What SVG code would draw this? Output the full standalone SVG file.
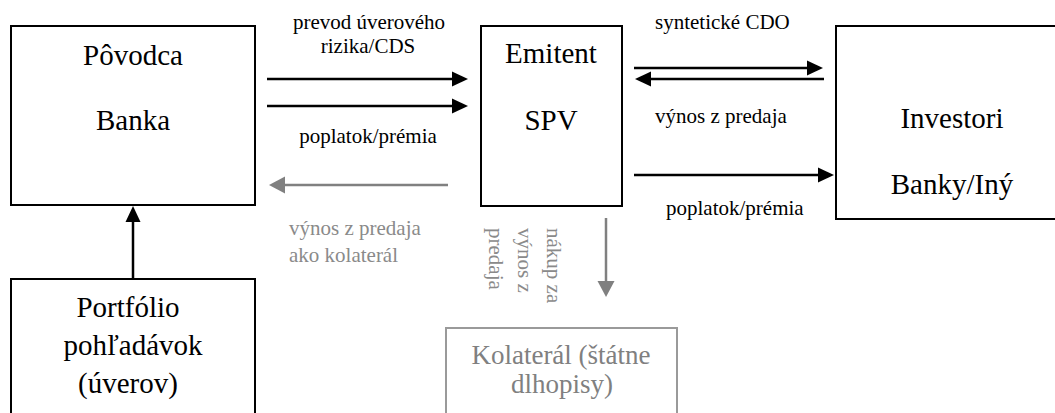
<svg xmlns="http://www.w3.org/2000/svg" width="1055" height="413" viewBox="0 0 1055 413" font-family="Liberation Serif, serif">
<style>
text{font-family:'Liberation Serif',serif}
.box{fill:#fff;stroke:#000;stroke-width:2}
.gbox{fill:#fff;stroke:#9a9a9a;stroke-width:2}
.big{font-size:29px;fill:#000}
.gbig{font-size:27px;fill:#808080}
.sm{font-size:21px;fill:#000}
.gsm{font-size:21px;fill:#8a8a8a}
.c{text-anchor:middle}
.k{stroke:#000;stroke-width:2.5;fill:none;marker-end:url(#ak)}
.g{stroke:#808080;stroke-width:2.5;fill:none;marker-end:url(#ag)}
</style>
<defs>
<marker id="ak" markerUnits="userSpaceOnUse" markerWidth="18" markerHeight="16" refX="0" refY="7.5" orient="auto" overflow="visible">
<path d="M0,0 L16,7.5 L0,15 Z" fill="#000"/>
</marker>
<marker id="ag" markerUnits="userSpaceOnUse" markerWidth="18" markerHeight="18" refX="0" refY="8.5" orient="auto" overflow="visible">
<path d="M0,0 L16,8.5 L0,17 Z" fill="#808080"/>
</marker>
</defs>
<rect width="1055" height="413" fill="#fff"/>

<g id="povodca">
<rect class="box" x="11" y="26" width="244" height="179"/>
<text class="big c" x="133" y="65">Pôvodca</text>
<text class="big c" x="133" y="130">Banka</text>
</g>

<g id="emitent">
<rect class="box" x="481" y="26" width="141" height="180"/>
<text class="big c" x="551" y="63">Emitent</text>
<text class="big c" x="551" y="130">SPV</text>
</g>

<g id="investori">
<rect class="box" x="836" y="26" width="230" height="193"/>
<text class="big c" x="952" y="128">Investori</text>
<text class="big c" x="952" y="194">Banky/Iný</text>
</g>

<g id="portfolio">
<rect class="box" x="11" y="279" width="244" height="150"/>
<text class="big c" x="128" y="317">Portfólio</text>
<text class="big c" x="133" y="355">pohľadávok</text>
<text class="big c" x="128" y="393">(úverov)</text>
</g>

<g id="kolateral">
<rect class="gbox" x="446" y="328" width="231" height="100"/>
<text class="gbig c" x="561" y="364">Kolaterál (štátne</text>
<text class="gbig c" x="562" y="393">dlhopisy)</text>
</g>

<g id="connectors">
<line class="k" x1="267" y1="79" x2="452" y2="79"/>
<line class="k" x1="267" y1="106" x2="452" y2="106"/>
<line class="g" x1="448" y1="185" x2="285" y2="185"/>
<line class="k" x1="133" y1="278" x2="133" y2="222"/>
<line class="k" x1="634" y1="68" x2="807" y2="68"/>
<line class="k" x1="824" y1="79" x2="651" y2="79"/>
<line class="k" x1="634" y1="175" x2="818" y2="175"/>
<line class="g" x1="606" y1="218" x2="606" y2="281"/>
</g>

<g id="labels">
<text class="sm c" x="369" y="29">prevod úverového</text>
<text class="sm c" x="368" y="53">rizika/CDS</text>
<text class="sm c" x="368" y="143">poplatok/prémia</text>
<text class="sm" x="655" y="29">syntetické CDO</text>
<text class="sm" x="655" y="123">výnos z predaja</text>
<text class="sm" x="666" y="215">poplatok/prémia</text>
<text class="gsm" x="289" y="235">výnos z predaja</text>
<text class="gsm" x="289" y="262">ako kolaterál</text>
<text class="gsm" transform="translate(547,228) rotate(90)">nákup za</text>
<text class="gsm" transform="translate(518,228) rotate(90)">výnos z</text>
<text class="gsm" transform="translate(489,228) rotate(90)">predaja</text>
</g>
</svg>
